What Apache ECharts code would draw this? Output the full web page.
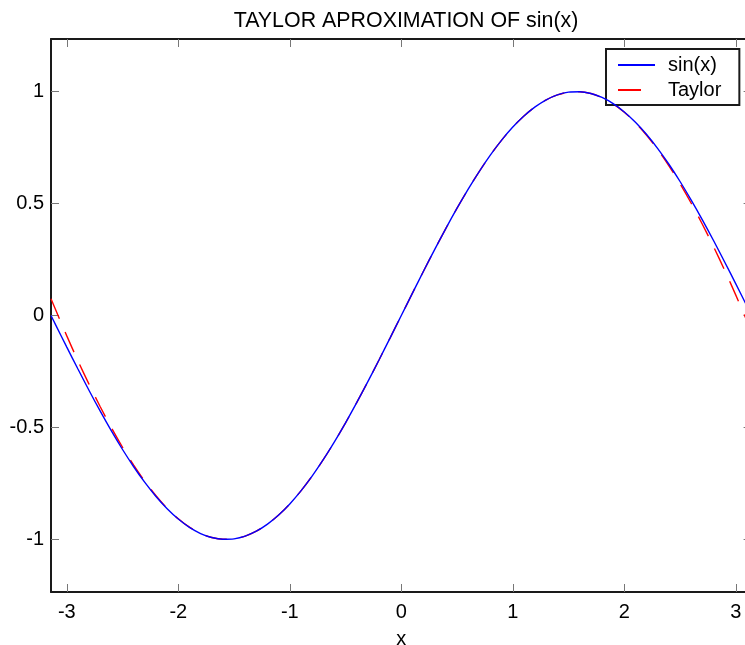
<!DOCTYPE html>
<html>
<head>
<meta charset="utf-8">
<script src="https://cdn.jsdelivr.net/npm/echarts@6/dist/echarts.min.js"></script>
<style>
  html, body { margin: 0; padding: 0; background: #fff; }
  #chart { width: 745px; height: 645px; }
</style>
</head>
<body>
<div id="chart"></div>
<script>
// Sample points on [-pi, pi]
const xs = [-3.1416, -3.1, -3.0, -2.9, -2.8, -2.7, -2.6, -2.5, -2.4, -2.3, -2.2, -2.1, -2.0,
  -1.9, -1.8, -1.7, -1.6, -1.5, -1.4, -1.3, -1.2, -1.1, -1.0, -0.9, -0.8, -0.7, -0.6, -0.5,
  -0.4, -0.3, -0.2, -0.1, 0.0, 0.1, 0.2, 0.3, 0.4, 0.5, 0.6, 0.7, 0.8, 0.9, 1.0, 1.1, 1.2,
  1.3, 1.4, 1.5, 1.6, 1.7, 1.8, 1.9, 2.0, 2.1, 2.2, 2.3, 2.4, 2.5, 2.6, 2.7, 2.8, 2.9, 3.0,
  3.1, 3.1416];

// sin(x) at the sample points
const sinVals = [0.0, -0.0416, -0.1411, -0.2392, -0.3350, -0.4274, -0.5155, -0.5985, -0.6755,
  -0.7457, -0.8085, -0.8632, -0.9093, -0.9463, -0.9738, -0.9917, -0.9996, -0.9975, -0.9854,
  -0.9636, -0.9320, -0.8912, -0.8415, -0.7833, -0.7174, -0.6442, -0.5646, -0.4794, -0.3894,
  -0.2955, -0.1987, -0.0998, 0.0, 0.0998, 0.1987, 0.2955, 0.3894, 0.4794, 0.5646, 0.6442,
  0.7174, 0.7833, 0.8415, 0.8912, 0.9320, 0.9636, 0.9854, 0.9975, 0.9996, 0.9917, 0.9738,
  0.9463, 0.9093, 0.8632, 0.8085, 0.7457, 0.6755, 0.5985, 0.5155, 0.4274, 0.3350, 0.2392,
  0.1411, 0.0416, 0.0];

// Taylor polynomial values at the same points
const taylorVals = [0.0752, 0.0253, -0.0911, -0.2022, -0.3078, -0.4077, -0.5014, -0.5885,
  -0.6686, -0.7410, -0.8053, -0.8611, -0.9079, -0.9454, -0.9733, -0.9914, -0.9994, -0.9974,
  -0.9854, -0.9635, -0.9320, -0.8912, -0.8415, -0.7833, -0.7174, -0.6442, -0.5646, -0.4794,
  -0.3894, -0.2955, -0.1987, -0.0998, 0.0, 0.0998, 0.1987, 0.2955, 0.3894, 0.4794, 0.5646,
  0.6442, 0.7174, 0.7833, 0.8415, 0.8912, 0.9320, 0.9635, 0.9854, 0.9974, 0.9994, 0.9914,
  0.9733, 0.9454, 0.9079, 0.8611, 0.8053, 0.7410, 0.6686, 0.5885, 0.5014, 0.4077, 0.3078,
  0.2022, 0.0911, -0.0253, -0.0752];

const xTicks = [-3, -2, -1, 0, 1, 2, 3];
const yTicks = [-1, -0.5, 0, 0.5, 1];
const xRange = [-3.1416, 3.1416];
const yRange = [-1.235, 1.235];

const FONT = "'Liberation Sans', Arial, Helvetica, sans-serif";

const pair = (a, b) => a.map((v, i) => [v, b[i]]);

const axisLineStyle = { show: true, onZero: false, lineStyle: { color: '#1a1a1a', width: 2 } };
const tickStyle = (vals) => ({
  show: true, inside: true, length: 8, customValues: vals,
  lineStyle: { color: '#777', width: 1 }
});

const chart = echarts.init(document.getElementById('chart'), null, { renderer: 'canvas' });
chart.setOption({
  animation: false,
  backgroundColor: '#fff',
  title: {
    text: 'TAYLOR APROXIMATION OF sin(x)',
    left: 401, top: 6, textAlign: 'center',
    textStyle: { fontFamily: FONT, fontSize: 21.4, fontWeight: 'normal', color: '#000' }
  },
  legend: {
    orient: 'vertical',
    left: 606, top: 49,
    padding: [6, 18, 5, 11],
    itemWidth: 37, itemHeight: 14, itemGap: 5,
    backgroundColor: '#fff',
    borderColor: '#1a1a1a', borderWidth: 2,
    itemStyle: { opacity: 0 },
    textStyle: { fontFamily: FONT, fontSize: 20, color: '#000', padding: [0, 0, 0, 8] },
    data: [
      { name: 'sin(x)' },
      { name: 'Taylor', lineStyle: { type: [23, 20] } }
    ]
  },
  grid: {
    left: 51, top: 39, width: 700.6, height: 553,
    containLabel: false, outerBoundsMode: 'none'
  },
  xAxis: [{
    type: 'value', min: xRange[0], max: xRange[1],
    name: 'x', nameLocation: 'middle', nameGap: 37,
    nameTextStyle: { fontFamily: FONT, fontSize: 20, color: '#000' },
    axisLine: axisLineStyle,
    axisTick: tickStyle(xTicks),
    axisLabel: { customValues: xTicks, margin: 10, fontFamily: FONT, fontSize: 20, color: '#000' },
    splitLine: { show: false }
  }, {
    type: 'value', position: 'top', min: xRange[0], max: xRange[1],
    axisLine: axisLineStyle,
    axisTick: tickStyle(xTicks),
    axisLabel: { show: false },
    splitLine: { show: false }
  }],
  yAxis: [{
    type: 'value', min: yRange[0], max: yRange[1],
    axisLine: axisLineStyle,
    axisTick: tickStyle(yTicks),
    axisLabel: { customValues: yTicks, margin: 7, fontFamily: FONT, fontSize: 20, color: '#000' },
    splitLine: { show: false }
  }, {
    type: 'value', position: 'right', min: yRange[0], max: yRange[1],
    axisLine: axisLineStyle,
    axisTick: tickStyle(yTicks),
    axisLabel: { show: false },
    splitLine: { show: false }
  }],
  series: [{
    name: 'sin(x)', type: 'line', data: pair(xs, sinVals),
    symbol: 'none', smooth: 0.3, z: 4,
    lineStyle: { color: '#0000ff', width: 1.4 },
    itemStyle: { color: '#0000ff' }
  }, {
    name: 'Taylor', type: 'line', data: pair(xs, taylorVals),
    symbol: 'none', smooth: 0.3, z: 3,
    lineStyle: { color: '#ff0000', width: 1.4, type: [22, 14] },
    itemStyle: { color: '#ff0000' }
  }]
});
</script>
</body>
</html>
